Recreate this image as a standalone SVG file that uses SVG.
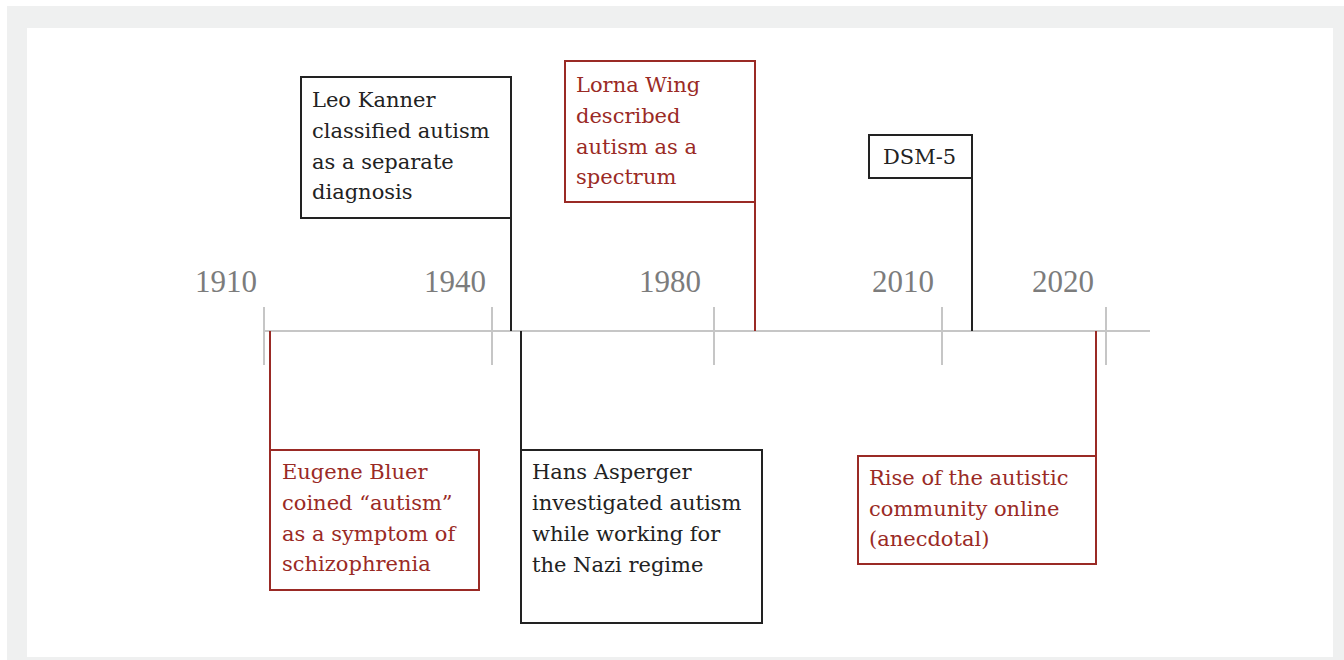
<svg xmlns="http://www.w3.org/2000/svg" width="1344" height="660" viewBox="0 0 1344 660">
<style>
.box{fill:#fff;stroke-width:2}
.blk{stroke:#222}
.red{stroke:#9a2a25}
.t{font-family:"DejaVu Serif",serif;font-size:21px}
.tb{fill:#222}
.tr{fill:#9a2a25}
.yr{font-family:"Liberation Serif",serif;font-size:31px;fill:#7c7c7c;text-anchor:middle}
.ax{stroke:#c6c6c6;stroke-width:2;fill:none}
.cn{fill:none;stroke-width:2}
</style>
<rect x="0" y="0" width="1344" height="660" fill="#fff"/>
<rect x="7" y="6" width="1337" height="654" fill="#eff0f0"/>
<rect x="27" y="28" width="1306" height="629" fill="#fff"/>
<g id="axis">
<line class="ax" x1="264" y1="331" x2="1150" y2="331"/>
<line class="ax" x1="264" y1="307" x2="264" y2="365"/>
<line class="ax" x1="492" y1="307" x2="492" y2="365"/>
<line class="ax" x1="714" y1="307" x2="714" y2="365"/>
<line class="ax" x1="942" y1="307" x2="942" y2="365"/>
<line class="ax" x1="1106" y1="307" x2="1106" y2="365"/>
<text class="yr" x="226" y="292">1910</text>
<text class="yr" x="455" y="292">1940</text>
<text class="yr" x="670" y="292">1980</text>
<text class="yr" x="903" y="292">2010</text>
<text class="yr" x="1063" y="292">2020</text>
</g>
<g id="connectors">
<line class="cn blk" x1="511" y1="218" x2="511" y2="331"/>
<line class="cn red" x1="755" y1="202" x2="755" y2="331"/>
<line class="cn blk" x1="972" y1="178" x2="972" y2="331"/>
<line class="cn red" x1="270" y1="331" x2="270" y2="450"/>
<line class="cn blk" x1="521" y1="331" x2="521" y2="450"/>
<line class="cn red" x1="1096" y1="331" x2="1096" y2="456"/>
</g>
<g id="kanner">
<rect class="box blk" x="301" y="77" width="210" height="141"/>
<text class="t tb" x="312"><tspan x="312" y="107">Leo Kanner</tspan><tspan x="312" y="138">classified autism</tspan><tspan x="312" y="169">as a separate</tspan><tspan x="312" y="199">diagnosis</tspan></text>
</g>
<g id="wing">
<rect class="box red" x="565" y="61" width="190" height="141"/>
<text class="t tr"><tspan x="576" y="92">Lorna Wing</tspan><tspan x="576" y="123">described</tspan><tspan x="576" y="154">autism as a</tspan><tspan x="576" y="184">spectrum</tspan></text>
</g>
<g id="dsm5">
<rect class="box blk" x="869" y="135" width="103" height="43"/>
<text class="t tb" x="883" y="164">DSM-5</text>
</g>
<g id="bleuler">
<rect class="box red" x="270" y="450" width="209" height="140"/>
<text class="t tr"><tspan x="282" y="479">Eugene Bluer</tspan><tspan x="282" y="510">coined “autism”</tspan><tspan x="282" y="541">as a symptom of</tspan><tspan x="282" y="571">schizophrenia</tspan></text>
</g>
<g id="asperger">
<rect class="box blk" x="521" y="450" width="241" height="173"/>
<text class="t tb"><tspan x="532" y="479">Hans Asperger</tspan><tspan x="532" y="510">investigated autism</tspan><tspan x="532" y="541">while working for</tspan><tspan x="532" y="572">the Nazi regime</tspan></text>
</g>
<g id="online">
<rect class="box red" x="858" y="456" width="238" height="108"/>
<text class="t tr"><tspan x="869" y="485">Rise of the autistic</tspan><tspan x="869" y="516">community online</tspan><tspan x="869" y="546">(anecdotal)</tspan></text>
</g>
</svg>
